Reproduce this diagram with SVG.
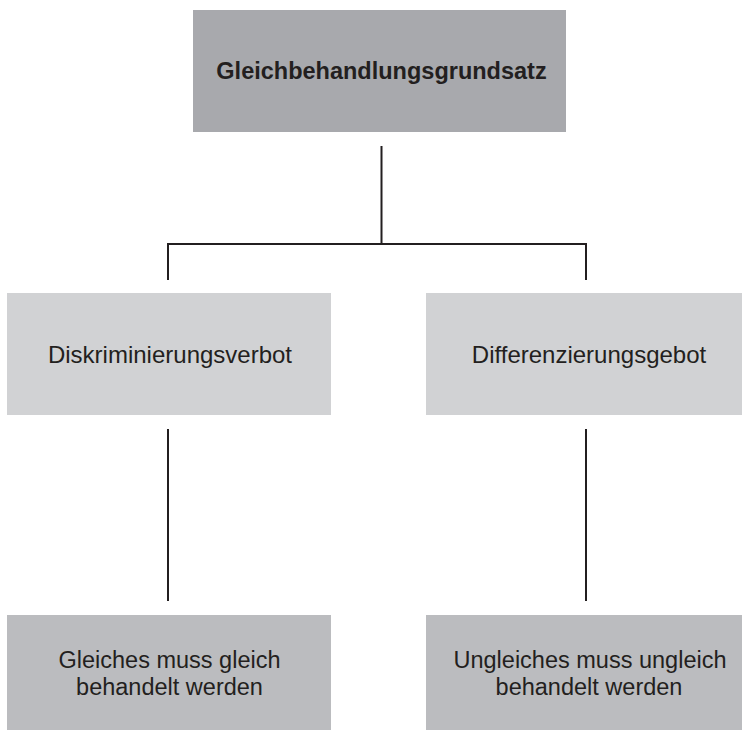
<svg xmlns="http://www.w3.org/2000/svg" width="742" height="730" viewBox="0 0 742 730">
<style>
text{font-family:"Liberation Sans",Arial,Helvetica,sans-serif;fill:#231f20;text-anchor:middle;font-size:23.5px}
.b{font-weight:bold}
.m{font-size:24px}
.top{fill:#a8a9ad}
.mid{fill:#d1d2d4}
.bot{fill:#bbbcbf}
.c{stroke:#231f20;stroke-width:2;fill:none}
</style>
<rect width="742" height="730" fill="#fff"/>
<g id="n-root"><rect class="top" x="193" y="10" width="373" height="122"/><text class="b" x="381.5" y="79">Gleichbehandlungsgrundsatz</text></g>
<g id="n-diskr"><rect class="mid" x="7" y="293" width="324" height="122"/><text class="m" x="170" y="363">Diskriminierungsverbot</text></g>
<g id="n-diff"><rect class="mid" x="426" y="293" width="323" height="122"/><text class="m" x="589" y="363">Differenzierungsgebot</text></g>
<g id="n-gleich"><rect class="bot" x="7" y="615" width="324" height="120"/><text x="169.5" y="668">Gleiches muss gleich</text><text x="169.5" y="695">behandelt werden</text></g>
<g id="n-ungleich"><rect class="bot" x="426" y="615" width="323" height="120"/><text x="590" y="668">Ungleiches muss ungleich</text><text x="589" y="695">behandelt werden</text></g>
<g id="connectors">
<path class="c" d="M381.5 146V244M168 280V244H586V280"/>
<path class="c" d="M168 429V601M586 429V601"/>
</g>
</svg>
